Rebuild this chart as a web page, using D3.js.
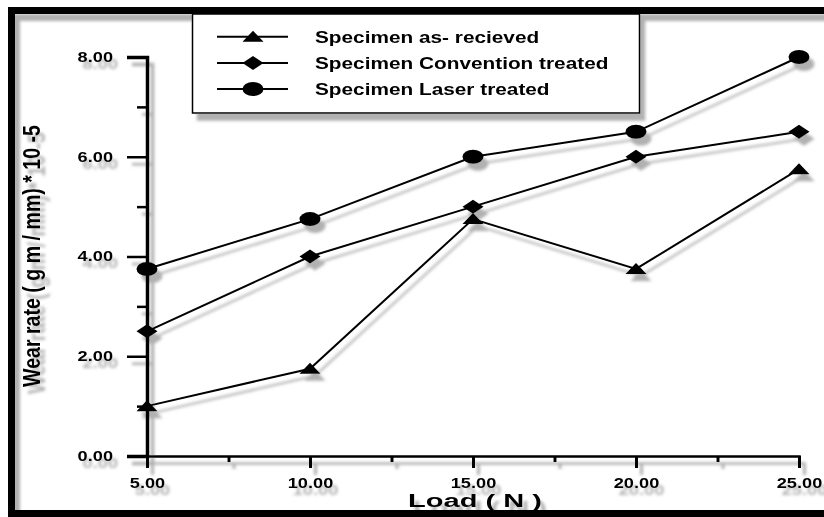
<!DOCTYPE html>
<html>
<head>
<meta charset="utf-8">
<script src="https://cdn.jsdelivr.net/npm/d3@7"></script>
<style>
  html, body { margin: 0; padding: 0; background: #fff; }
  svg { display: block; }
  text { font-family: "Liberation Sans", Arial, sans-serif; font-weight: bold; fill: #000; }
</style>
</head>
<body>
<svg id="chart" width="824" height="517"></svg>
<script>
// Load (N) applied in the wear test
const loads = [5, 10, 15, 20, 25];
// Wear rate (g m / mm) * 10^-5 for each specimen condition
const asReceived   = [1.0, 1.75, 4.75, 3.75, 5.75];
const conventional = [2.5, 4.0, 5.0, 6.0, 6.5];
const laser        = [3.75, 4.75, 6.0, 6.5, 8.0];

const seriesNames = ["Specimen as- recieved", "Specimen Convention treated", "Specimen Laser treated"];
const seriesSymbols = ["triangle", "diamond", "circle"];

const xTicks = [5, 10, 15, 20, 25];
const xMinorTicks = [7.5, 12.5, 17.5, 22.5];
const yTicks = [0, 2, 4, 6, 8];
const yMinorTicks = [1, 3, 5, 7];

const xTitle = "Load ( N )";
const yTitle = "Wear rate ( g m / mm) * 10 -5";

const series = [asReceived, conventional, laser].map((vals, i) => ({
  name: seriesNames[i],
  symbol: seriesSymbols[i],
  points: loads.map((l, j) => ({ x: l, y: vals[j] }))
}));

const W = 824, H = 517;
const SX = 1.3; // horizontal stretch of the lettering

const svg = d3.select("#chart");
svg.append("rect").attr("width", W).attr("height", H).attr("fill", "#fff");

// soft grey drop shadow under every drawn element
const defs = svg.append("defs");
const f = defs.append("filter").attr("id", "shadow")
  .attr("filterUnits", "userSpaceOnUse")
  .attr("x", 0).attr("y", 0).attr("width", W).attr("height", H);
f.append("feGaussianBlur").attr("in", "SourceAlpha").attr("stdDeviation", 1.8).attr("result", "b");
f.append("feOffset").attr("in", "b").attr("dx", 5).attr("dy", 7).attr("result", "o");
f.append("feFlood").attr("flood-color", "#707070").attr("flood-opacity", 0.55).attr("result", "c");
f.append("feComposite").attr("in", "c").attr("in2", "o").attr("operator", "in").attr("result", "s");
const m = f.append("feMerge");
m.append("feMergeNode").attr("in", "s");
m.append("feMergeNode").attr("in", "SourceGraphic");

const g = svg.append("g").attr("filter", "url(#shadow)");

// outer frame
g.append("rect")
  .attr("x", 11.5).attr("y", 10.5).attr("width", 900).attr("height", 503)
  .attr("fill", "none").attr("stroke", "#000").attr("stroke-width", 7);

const x = d3.scaleLinear().domain([5, 25]).range([147, 799]);
const y = d3.scaleLinear().domain([0, 8]).range([456, 57]);

function stretchText(sel) {
  sel.each(function () {
    const t = d3.select(this);
    const ax = +t.attr("x") || 0;
    t.attr("transform", `translate(${ax},0) scale(${SX},1) translate(${-ax},0)`);
  });
}

// minor ticks
g.append("g").attr("transform", `translate(${x(5)},0)`)
  .call(d3.axisLeft(y).tickValues(yMinorTicks).tickSize(10).tickSizeOuter(0).tickFormat(""))
  .call(s => s.select(".domain").remove())
  .call(s => s.selectAll("line").attr("stroke-width", 2.5));
g.append("g").attr("transform", `translate(0,${y(0)})`)
  .call(d3.axisBottom(x).tickValues(xMinorTicks).tickSize(6).tickSizeOuter(0).tickFormat(""))
  .call(s => s.select(".domain").remove())
  .call(s => s.selectAll("line").attr("stroke-width", 3));

// major y axis
const yAxis = g.append("g").attr("transform", `translate(${x(5)},0)`)
  .call(d3.axisLeft(y).tickValues(yTicks).tickSize(20).tickSizeOuter(20).tickPadding(14)
    .tickFormat(d3.format(".2f")));
yAxis.select(".domain").attr("stroke-width", 3.5);
yAxis.selectAll("line").attr("stroke-width", 2.5);
yAxis.selectAll("text").attr("font-size", 14).attr("font-family", null).call(stretchText);

// major x axis
const xAxis = g.append("g").attr("transform", `translate(0,${y(0)})`)
  .call(d3.axisBottom(x).tickValues(xTicks).tickSize(12).tickSizeOuter(12).tickPadding(10)
    .tickFormat(d3.format(".2f")));
xAxis.select(".domain").attr("stroke-width", 2.5);
xAxis.selectAll("line").attr("stroke-width", 3);
xAxis.selectAll("text").attr("font-size", 14).attr("font-family", null).call(stretchText);
g.selectAll(".tick text").style("font-family", '"Liberation Sans", Arial, sans-serif').style("font-weight", "bold");

// axis titles
g.append("text")
  .attr("x", 475).attr("y", 507)
  .attr("text-anchor", "middle")
  .attr("font-size", 18)
  .attr("textLength", 134).attr("lengthAdjust", "spacingAndGlyphs")
  .text(xTitle);

g.append("text")
  .attr("transform", `translate(40,256) scale(1.4,1) rotate(-90)`)
  .attr("text-anchor", "middle")
  .attr("font-size", 17)
  .attr("textLength", 262).attr("lengthAdjust", "spacingAndGlyphs")
  .text(yTitle);

// marker shapes
function markerPath(sym) {
  if (sym === "triangle") return "M0,-6L10.5,5L-10.5,5Z";
  if (sym === "diamond") return "M0,-7L10.5,0L0,7L-10.5,0Z";
  return null;
}
function drawMarker(sel, sym) {
  if (sym === "circle") {
    sel.append("ellipse").attr("rx", 10.5).attr("ry", 7).attr("fill", "#000");
  } else {
    sel.append("path").attr("d", markerPath(sym)).attr("fill", "#000");
  }
}

// series lines and markers
const line = d3.line().x(d => x(d.x)).y(d => y(d.y));
series.forEach(s => {
  g.append("path").datum(s.points)
    .attr("d", line).attr("fill", "none").attr("stroke", "#000").attr("stroke-width", 2);
  g.append("g").selectAll("g").data(s.points).join("g")
    .attr("transform", d => `translate(${x(d.x)},${y(d.y)})`)
    .each(function () { drawMarker(d3.select(this), s.symbol); });
});

// legend
const lg = g.append("g");
lg.append("rect")
  .attr("x", 192.5).attr("y", 14).attr("width", 447).attr("height", 99)
  .attr("fill", "#fff").attr("stroke", "#000").attr("stroke-width", 1.5);
const rowY = [36.7, 63, 89];
series.forEach((s, i) => {
  const row = lg.append("g").attr("transform", `translate(0,${rowY[i]})`);
  row.append("line").attr("x1", 217).attr("x2", 288).attr("stroke", "#000").attr("stroke-width", 2);
  drawMarker(row.append("g").attr("transform", "translate(253,0)"), s.symbol);
  row.append("text")
    .attr("x", 315).attr("y", 6.3)
    .attr("font-size", 16)
    .text(s.name)
    .call(stretchText);
});
</script>
</body>
</html>
